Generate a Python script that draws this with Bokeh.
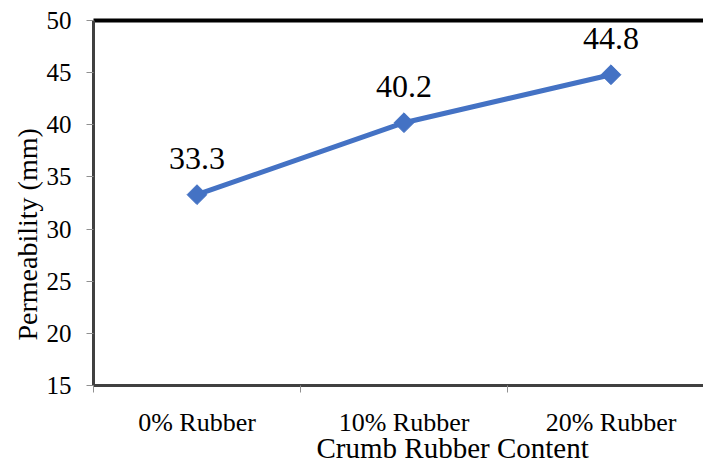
import math
from bokeh.plotting import figure
from bokeh.models import FixedTicker, ColumnDataSource, LinearAxis, Title
from bokeh.core.properties import value
from bokeh.embed import file_html
from bokeh.resources import INLINE

categories = ["0% Rubber", "10% Rubber", "20% Rubber"]
permeability = [33.3, 40.2, 44.8]
labels = ["33.3", "40.2", "44.8"]
y_ticks = [15, 20, 25, 30, 35, 40, 45, 50]
x_title = "Crumb Rubber Content"
y_title = "Permeability  (mm)"

xs = list(range(len(categories)))
src = ColumnDataSource(dict(x=xs, y=permeability, lab=labels))

FONT = "Liberation Serif"
BLUE = "#4472C4"

p = figure(width=703, height=463, output_backend="svg", toolbar_location=None,
           x_range=(-0.5, 2.447), y_range=(15, 50),
           min_border_left=93, min_border_right=0, min_border_top=20, min_border_bottom=78)
p.grid.visible = False
p.background_fill_color = "white"
p.border_fill_color = "white"
p.outline_line_color = None

p.line("x", "y", source=src, line_color=BLUE, line_width=5)
p.scatter("x", "y", source=src, marker="square", angle=math.pi / 4, size=14,
          fill_color=BLUE, line_color=BLUE)
p.text("x", "y", text="lab", source=src, y_offset=-36, text_align="center", text_baseline="middle",
       text_font=value(FONT), text_font_size="32px", text_color="black")

xa = p.xaxis[0]
xa.ticker = FixedTicker(ticks=xs, minor_ticks=[-0.5, 0.5, 1.5, 2.5])
xa.major_label_overrides = {i: c for i, c in enumerate(categories)}
xa.major_tick_line_color = None
xa.minor_tick_line_color = "#909090"
xa.minor_tick_out = 7
xa.minor_tick_in = 0
xa.axis_line_color = "#404040"
xa.axis_line_width = 3
xa.major_label_text_font = FONT
xa.major_label_text_font_size = "26px"
xa.major_label_text_color = "black"
xa.major_label_standoff = 15

ya = p.yaxis[0]
ya.ticker = FixedTicker(ticks=y_ticks, minor_ticks=[])
ya.major_tick_line_color = "#909090"
ya.major_tick_out = 7
ya.major_tick_in = 0
ya.axis_line_color = "#404040"
ya.axis_line_width = 3
ya.major_label_text_font = FONT
ya.major_label_text_font_size = "25px"
ya.major_label_text_color = "black"
ya.major_label_standoff = 15

top = LinearAxis(ticker=FixedTicker(ticks=[], minor_ticks=[]), axis_line_color="black",
                 axis_line_width=4, major_tick_line_color=None, minor_tick_line_color=None,
                 major_label_text_font_size="0px")
p.add_layout(top, "above")

ty = Title(text=y_title, align="left", offset=45, standoff=0, vertical_align="middle",
           text_font=FONT, text_font_size="28px", text_font_style="normal", text_color="black")
p.add_layout(ty, "left")

tx = Title(text=x_title, align="left", offset=223, standoff=-16, vertical_align="top",
           text_font=FONT, text_font_size="29px", text_font_style="normal", text_color="black")
p.add_layout(tx, "below")

open("out.html", "w").write(file_html(p, INLINE))
